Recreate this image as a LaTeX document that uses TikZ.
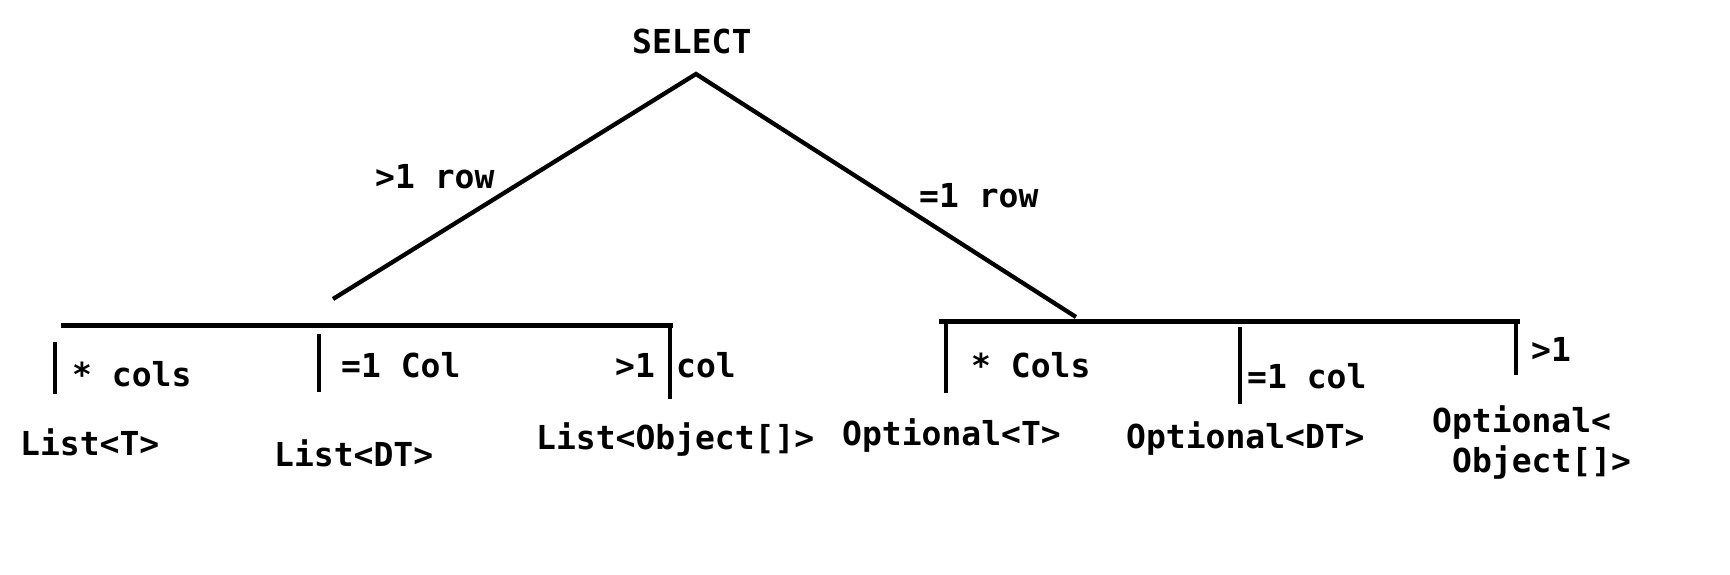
\documentclass[tikz,border=0pt]{standalone}
\usepackage{fontspec}
\newfontfamily\monob{DejaVu Sans Mono}[BoldFont={DejaVu Sans Mono Bold}]
\begin{document}
\begin{tikzpicture}[x=1pt,y=-1pt,
  lbl/.style={font=\monob\bfseries\fontsize{33}{39}\selectfont, inner sep=0pt, anchor=base west},
  ln/.style={line width=4.3pt},
  barline/.style={line width=5pt}]
\fill[white] (0,0) rectangle (1730,574);
\useasboundingbox (0,0) rectangle (1730,574);
% root
\node[lbl] (select) at (632,53) {SELECT};
\coordinate (apex) at (696,74);
\coordinate (lend) at (333,299);
\coordinate (rend) at (1076,317);
\draw[ln] (lend) -- (apex) -- (rend);
\node[lbl] (many) at (375,188) {>1 row};
\node[lbl] (one) at (919,207) {=1 row};
% left bar
\coordinate (lbA) at (61,325);
\coordinate (lbB) at (673,325);
\draw[barline] (lbA) -- (lbB);
\coordinate (lv1a) at (55,342); \coordinate (lv1b) at (55,394);
\coordinate (lv2a) at (319,334); \coordinate (lv2b) at (319,392);
\coordinate (lv3a) at (670,325); \coordinate (lv3b) at (670,399);
\draw[ln] (lv1a) -- (lv1b);
\draw[ln] (lv2a) -- (lv2b);
\draw[ln] (lv3a) -- (lv3b);
\node[lbl] (lc1) at (72,386) {* cols};
\node[lbl] (lc2) at (341,377) {=1 Col};
\node[lbl] (lc3a) at (615,377) {>1};
\node[lbl] (lc3b) at (676,377) {col};
\node[lbl] (lt1) at (20,455) {List<T>};
\node[lbl] (lt2) at (274,466) {List<DT>};
\node[lbl] (lt3) at (536,449) {List<Object[]>};
% right bar
\coordinate (rbA) at (939,321);
\coordinate (rbB) at (1520,321);
\draw[barline] (rbA) -- (rbB);
\coordinate (rv1a) at (946,321); \coordinate (rv1b) at (946,393);
\coordinate (rv2a) at (1240,327); \coordinate (rv2b) at (1240,404);
\coordinate (rv3a) at (1516,321); \coordinate (rv3b) at (1516,375);
\draw[ln] (rv1a) -- (rv1b);
\draw[ln] (rv2a) -- (rv2b);
\draw[ln] (rv3a) -- (rv3b);
\node[lbl] (rc1) at (971,377) {* Cols};
\node[lbl] (rc2) at (1247,388) {=1 col};
\node[lbl] (rc3) at (1531,361) {>1};
\node[lbl] (rt1) at (842,445) {Optional<T>};
\node[lbl] (rt2) at (1126,448) {Optional<DT>};
\node[lbl] (rt3a) at (1432,432) {Optional<};
\node[lbl] (rt3b) at (1452,472) {Object[]>};
\end{tikzpicture}
\end{document}
